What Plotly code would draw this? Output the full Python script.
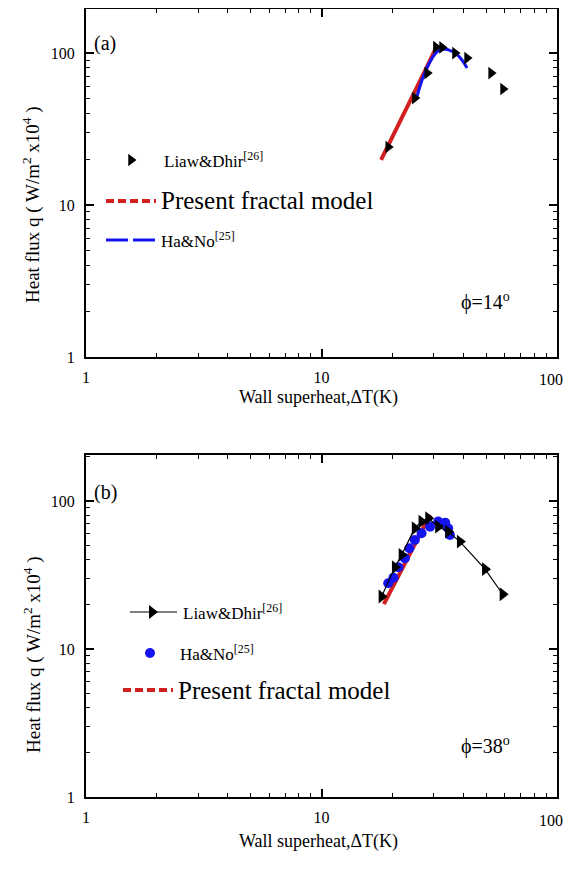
import plotly.graph_objects as go

# ---------------- data: panel (a), phi = 14 deg ----------------
a_liaw_x = [19.2, 24.9, 28.1, 30.6, 32.5, 36.9, 41.5, 52.5, 59.0]
a_liaw_y = [24.1, 50.6, 73.9, 109.5, 109.0, 100.0, 92.7, 73.9, 58.0]
a_model_x = [17.9, 20.0, 22.0, 24.0, 26.0, 28.0, 30.6]
a_model_y = [19.8, 27.9, 37.7, 49.7, 63.9, 80.8, 108.0]
a_hano_x = [25.4, 27.0, 29.5, 31.2, 33.5, 36.9, 39.5, 41.5]
a_hano_y = [51.4, 69.5, 92.7, 103.0, 106.0, 100.0, 90.0, 79.7]

# ---------------- data: panel (b), phi = 38 deg ----------------
b_liaw_x = [18.0, 20.5, 21.9, 24.9, 26.6, 28.4, 31.3, 34.5, 38.7, 49.5, 58.8]
b_liaw_y = [22.6, 35.6, 43.2, 65.4, 72.5, 76.4, 67.0, 62.0, 53.1, 34.6, 23.4]
b_hano_x = [19.2, 20.2, 21.2, 22.6, 23.6, 24.9, 26.6, 28.9, 31.3, 33.5, 34.5, 35.1]
b_hano_y = [27.8, 30.3, 35.6, 41.0, 47.9, 54.5, 60.5, 67.0, 72.5, 71.3, 65.4, 58.9]
b_model_x = [18.4, 20.0, 22.0, 24.0, 26.0, 28.0, 28.9]
b_model_y = [20.1, 25.9, 34.8, 45.4, 58.1, 72.9, 80.4]

x_tick_vals = [1, 10, 100]
x_tick_text = ["1", "10", "100"]
y_tick_vals = [1, 10, 100]
y_tick_text = ["1", "10", "100"]
minor_vals = [2, 3, 4, 5, 6, 7, 8, 9, 20, 30, 40, 50, 60, 70, 80, 90, 200]

FONT = "Liberation Serif"
RED = "#d21f1f"
BLUE = "#1414f0"

# The page body has an 8px margin; layout positions below are given in
# screenshot pixels and shifted by OFF into figure pixels.
OFF = 8
W, H = 573 - OFF, 871 - 2 * OFF
ml, mr, mt = 86 - OFF, 16, 1
mb = H - (797 - OFF)
ph = H - mt - mb

fig = go.Figure()

# panel (a)
fig.add_trace(go.Scatter(x=a_model_x, y=a_model_y, mode="lines",
                         line=dict(color=RED, width=4), xaxis="x", yaxis="y"))
fig.add_trace(go.Scatter(x=a_hano_x, y=a_hano_y, mode="lines", line_shape="spline",
                         line=dict(color=BLUE, width=3), xaxis="x", yaxis="y"))
fig.add_trace(go.Scatter(x=a_liaw_x, y=a_liaw_y, mode="markers",
                         marker=dict(symbol="triangle-right", size=11, color="black"),
                         xaxis="x", yaxis="y"))

# panel (b)
fig.add_trace(go.Scatter(x=b_model_x, y=b_model_y, mode="lines",
                         line=dict(color=RED, width=4), xaxis="x2", yaxis="y2"))
fig.add_trace(go.Scatter(x=b_hano_x, y=b_hano_y, mode="markers",
                         marker=dict(symbol="circle", size=10, color=BLUE),
                         xaxis="x2", yaxis="y2"))
fig.add_trace(go.Scatter(x=b_liaw_x, y=b_liaw_y, mode="lines+markers",
                         line=dict(color="black", width=1.2),
                         marker=dict(symbol="triangle-right", size=12, color="black"),
                         xaxis="x2", yaxis="y2"))

# ---- legend samples on a hidden full-size axis measured in screenshot pixels ----
leg = dict(xaxis="x3", yaxis="y3", hoverinfo="skip")
fig.add_trace(go.Scatter(x=[131], y=[160], mode="markers",
                         marker=dict(symbol="triangle-right", size=11, color="black"), **leg))
fig.add_trace(go.Scatter(x=[106, 156], y=[201, 201], mode="lines",
                         line=dict(color=RED, width=4, dash="8px,4px"), **leg))
fig.add_trace(go.Scatter(x=[106, 156], y=[240, 240], mode="lines",
                         line=dict(color=BLUE, width=3, dash="22px,5px"), **leg))
fig.add_trace(go.Scatter(x=[130, 177], y=[612, 612], mode="lines",
                         line=dict(color="black", width=1.2), **leg))
fig.add_trace(go.Scatter(x=[152], y=[612], mode="markers",
                         marker=dict(symbol="triangle-right", size=12, color="black"), **leg))
fig.add_trace(go.Scatter(x=[150], y=[653], mode="markers",
                         marker=dict(symbol="circle", size=10, color=BLUE), **leg))
fig.add_trace(go.Scatter(x=[123, 173], y=[690, 690], mode="lines",
                         line=dict(color=RED, width=4, dash="8px,4px"), **leg))

def fy(y_screen):
    return (H - mb - (y_screen - OFF)) / ph

def fx(x_screen):
    return (x_screen - OFF - ml) / (W - ml - mr)

top_dom = [fy(357), 1.0]
bot_dom = [0.0, fy(455)]

# the last x label would be clipped at the page edge; it is drawn as a note instead
x_axis_labels = x_tick_text[:-1] + [""]

def xax(anchor):
    return dict(type="log", range=[0, 2], domain=[0, 1], anchor=anchor,
                tickmode="array", tickvals=x_tick_vals, ticktext=x_axis_labels,
                ticks="inside", ticklen=8, tickwidth=1.5, tickcolor="black",
                minor=dict(ticks="inside", ticklen=4, tickwidth=1.2, tickcolor="black",
                           tickmode="array", tickvals=minor_vals),
                showline=True, linecolor="black", linewidth=2, mirror="allticks",
                showgrid=False, zeroline=False, ticklabeloverflow="allow",
                ticklabelstandoff=5,
                tickfont=dict(family=FONT, size=16, color="black"))

def yax(domain, anchor, top):
    return dict(type="log", range=[0, top], domain=domain, anchor=anchor,
                tickmode="array", tickvals=y_tick_vals, ticktext=y_tick_text,
                ticks="inside", ticklen=8, tickwidth=1.5, tickcolor="black",
                minor=dict(ticks="inside", ticklen=4, tickwidth=1.2, tickcolor="black",
                           tickmode="array", tickvals=minor_vals),
                showline=True, linecolor="black", linewidth=2, mirror="allticks",
                showgrid=False, zeroline=False, ticklabelstandoff=6,
                tickfont=dict(family=FONT, size=16, color="black"))

fig.update_layout(
    width=W, height=H,
    margin=dict(l=ml, r=mr, t=mt, b=mb, autoexpand=False),
    paper_bgcolor="white", plot_bgcolor="rgba(0,0,0,0)",
    xaxis=xax("y"), yaxis=yax(top_dom, "x", 2.29),
    xaxis2=xax("y2"), yaxis2=yax(bot_dom, "x2", 2.31),
    xaxis3=dict(domain=[0, 1], range=[86, 557], visible=False, anchor="y3",
                fixedrange=True),
    yaxis3=dict(domain=[0, 1], range=[797, 9], visible=False, anchor="x3",
                fixedrange=True),
    showlegend=False,
    font=dict(family=FONT, color="black"),
)

def note(text, x, y, size, xanchor="center", angle=0):
    return dict(text=text, x=fx(x), y=fy(y), xref="paper", yref="paper",
                showarrow=False, xanchor=xanchor, yanchor="middle",
                textangle=angle, font=dict(size=size))

ann = []
for yc in [205, 655]:
    ann.append(note("Heat flux q ( W/m<sup>2</sup> x10<sup>4</sup> )", 32, yc, 19, angle=-90))
for yc in [398, 841]:
    ann.append(note("Wall superheat,\u0394T(K)", 318, yc, 18))
for yc in [379, 820]:
    ann.append(note(x_tick_text[-1], 565, yc, 16, "right"))
ann.append(note("(a)", 105, 44, 20))
ann.append(note("(b)", 105, 493, 20))
ann.append(note("\u03d5=14<sup>o</sup>", 485, 301, 20))
ann.append(note("\u03d5=38<sup>o</sup>", 485, 745, 20))
ann.append(note("Liaw&Dhir<sup>[26]</sup>", 162, 160, 17, "left"))
ann.append(note("Present fractal model", 159, 201, 25, "left"))
ann.append(note("Ha&No<sup>[25]</sup>", 159, 240, 17, "left"))
ann.append(note("Liaw&Dhir<sup>[26]</sup>", 181, 612, 17, "left"))
ann.append(note("Ha&No<sup>[25]</sup>", 178, 653, 17, "left"))
ann.append(note("Present fractal model", 176, 690, 25, "left"))

fig.update_layout(annotations=ann)
fig.update_traces(showlegend=False)
fig.write_html("out.html")
